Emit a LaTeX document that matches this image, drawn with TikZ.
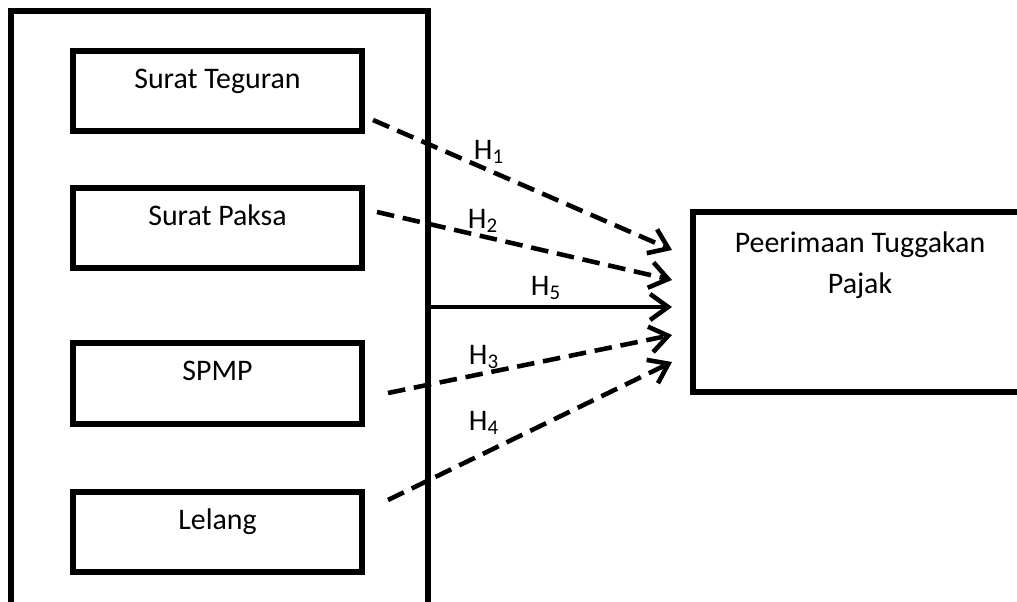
\documentclass[tikz,border=0pt]{standalone}
\usepackage{fontspec}
\setmainfont{Carlito}
\usetikzlibrary{arrows.meta}

\begin{document}
\begin{tikzpicture}[
    font=\fontsize{17}{23}\selectfont,
    riquadro/.style={draw, line width=3.4pt, inner sep=0pt},
    variabile/.style={riquadro, minimum width=5.78cm, inner xsep=0pt, inner ysep=0.37cm,
                      text height=0.38cm, text depth=0.49cm},
    ipotesi/.style={line width=2.6pt, dash pattern=on 10pt off 5pt,
                    -{Straight Barb[length=0.36cm,width=0.52cm]}},
    diretta/.style={line width=2.6pt, -{Straight Barb[length=0.36cm,width=0.52cm]}},
  ]
            % Ritaglia la figura come nell'originale
            \path[use as bounding box, clip] (0,0) rectangle (20.34,12.04);

            % Disegna il riquadro esterno con le variabili indipendenti
            \node[riquadro, minimum width=8.34cm, minimum height=12.82cm] (gruppo) at (4.39,5.41) {};

            % Disegna le quattro variabili indipendenti
            \node[variabile] (teguran) at (4.35,10.22) {Surat Teguran};
            \node[variabile] (paksa) at (4.35,7.48) {Surat Paksa};
            \node[variabile] (spmp) at (4.35,4.37) {SPMP};
            \node[variabile] (lelang) at (4.35,1.40) {Lelang};

            % Disegna il riquadro della variabile dipendente
            \node[riquadro, minimum width=6.68cm, minimum height=3.6cm] (penerimaan) at (17.2,6.0) {};
            \node[align=center, inner sep=0pt, anchor=north] (judul) at (17.2,7.41) {Peerimaan Tuggakan\\Pajak};

            % Punti di partenza e di arrivo delle frecce
            \coordinate (a1) at (7.46,9.64);
            \coordinate (a2) at (7.54,7.80);
            \coordinate (a3) at (7.76,4.18);
            \coordinate (a4) at (7.76,2.04);
            \coordinate (b1) at (13.44,7.04);
            \coordinate (b2) at (13.44,6.44);
            \coordinate (b5) at (13.44,5.90);
            \coordinate (b3) at (13.44,5.34);
            \coordinate (b4) at (13.44,4.80);

            % Disegna le frecce delle ipotesi
            \draw[ipotesi] (a1) -- (b1);
            \draw[ipotesi] (a2) -- (b2);
            \draw[diretta] (gruppo.east |- b5) -- (b5);
            \draw[ipotesi] (a3) -- (b3);
            \draw[ipotesi] (a4) -- (b4);

            % Etichette delle ipotesi
            \node (h1) at (9.78,9.00) {H\textsubscript{1}};
            \node (h2) at (9.66,7.62) {H\textsubscript{2}};
            \node (h5) at (10.92,6.28) {H\textsubscript{5}};
            \node (h3) at (9.68,4.90) {H\textsubscript{3}};
            \node (h4) at (9.68,3.58) {H\textsubscript{4}};
        \end{tikzpicture}
\end{document}
